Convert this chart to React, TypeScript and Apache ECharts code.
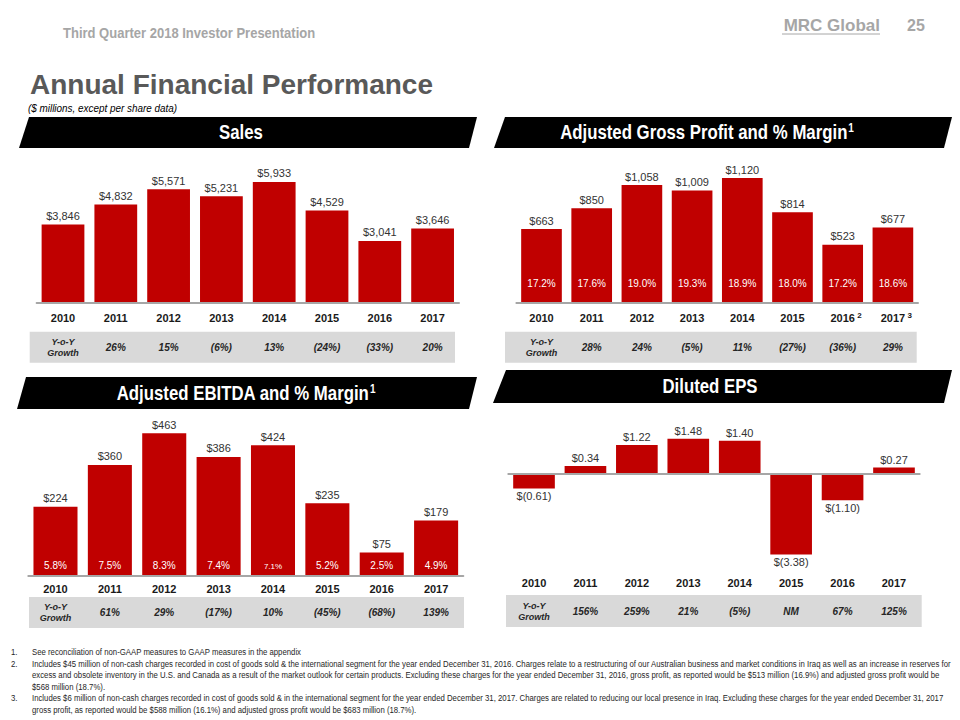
import React, { useEffect, useRef } from "react";
import * as echarts from "echarts";

// ---------- data ----------
const years = ["2010", "2011", "2012", "2013", "2014", "2015", "2016", "2017"];

const salesValues = [3846, 4832, 5571, 5231, 5933, 4529, 3041, 3646];
const salesGrowth = ["", "26%", "15%", "(6%)", "13%", "(24%)", "(33%)", "20%"];

const grossProfitValues = [663, 850, 1058, 1009, 1120, 814, 523, 677];
const grossMargins = ["17.2%", "17.6%", "19.0%", "19.3%", "18.9%", "18.0%", "17.2%", "18.6%"];
const grossGrowth = ["", "28%", "24%", "(5%)", "11%", "(27%)", "(36%)", "29%"];
const grossYearNotes = ["", "", "", "", "", "", "2", "3"];

const ebitdaValues = [224, 360, 463, 386, 424, 235, 75, 179];
const ebitdaMargins = ["5.8%", "7.5%", "8.3%", "7.4%", "7.1%", "5.2%", "2.5%", "4.9%"];
const ebitdaGrowth = ["", "61%", "29%", "(17%)", "10%", "(45%)", "(68%)", "139%"];

const epsValues = [-0.61, 0.34, 1.22, 1.48, 1.4, -3.38, -1.1, 0.27];
const epsGrowth = ["", "156%", "259%", "21%", "(5%)", "NM", "67%", "125%"];

const growthRowTitle = ["Y-o-Y", "Growth"];

const panelTitles = ["Sales", "Adjusted Gross Profit and % Margin", "Adjusted EBITDA and % Margin", "Diluted EPS"];
const panelTitleNotes = ["", "1", "1", ""];

const headerText = "Third Quarter 2018 Investor Presentation";
const logoText = "MRC Global";
const pageNumber = "25";
const titleText = "Annual Financial Performance";
const subtitleText = "($ millions, except per share data)";

const footnoteNumbers = ["1.", "2.", "", "", "3.", ""];
const footnoteLines = [
  "See reconciliation of non-GAAP measures to GAAP measures in the appendix",
  "Includes $45 million of non-cash charges recorded in cost of goods sold & the international segment for the year ended December 31, 2016. Charges relate to a restructuring of our Australian business and market conditions in Iraq as well as an increase in reserves for",
  "excess and obsolete inventory in the U.S. and Canada as a result of the market outlook for certain products. Excluding these charges for the year ended December 31, 2016, gross profit, as reported would be $513 million (16.9%) and adjusted gross profit would be",
  "$568 million (18.7%).",
  "Includes $6 million of non-cash charges recorded in cost of goods sold & in the international segment for the year ended December 31, 2017. Charges are related to reducing our local presence in Iraq. Excluding these charges for the year ended December 31, 2017",
  "gross profit, as reported would be $588 million (16.1%) and adjusted gross profit would be $683 million (18.7%).",
];

// ---------- styles ----------
const RED = "#C00000";
const TEXT = "#262626";
const AXIS_GRAY = "#a6a6a6";
const BAND = "#d9d9d9";
const HEADER_GRAY = "#a6a6a6";
const ARIAL = "'Liberation Sans', Arial, sans-serif";
const NARROW_SCALE = 0.82;

const money = (v: number) => "$" + v.toLocaleString("en-US");
const epsFmt = (v: number) => (v < 0 ? `$(${Math.abs(v).toFixed(2)})` : `$${v.toFixed(2)}`);

type Panel = {
  grid: { left: number; top: number; width: number; height: number };
  min: number;
  max: number;
  yearMargin: number;
  growthMargin: number;
  growth: string[];
  onZero: boolean;
};

const panels: Panel[] = [
  { grid: { left: 36.6, top: 150, width: 422.4, height: 153 }, min: 0, max: 7500, yearMargin: 15, growthMargin: 44.7, growth: salesGrowth, onZero: false },
  { grid: { left: 516.4, top: 150, width: 401.6, height: 153 }, min: 0, max: 1372, yearMargin: 15, growthMargin: 44.7, growth: grossGrowth, onZero: false },
  { grid: { left: 28.3, top: 422, width: 435, height: 153.5 }, min: 0, max: 500, yearMargin: 13, growthMargin: 37, growth: ebitdaGrowth, onZero: false },
  { grid: { left: 508.3, top: 426.4, width: 411.4, height: 130.9 }, min: -3.5, max: 2, yearMargin: 25.4, growthMargin: 54.4, growth: epsGrowth, onZero: true },
];

function yearLabel(margin: number, notes?: string[]) {
  return {
    show: true,
    interval: 0,
    margin,
    verticalAlign: "middle",
    fontFamily: ARIAL,
    fontWeight: "bold",
    fontSize: 11,
    color: "#1a1a1a",
    formatter: (v: string, i: number) =>
      notes ? `{p|}{y|${v}}{s|${notes[i] ? " " + notes[i] : ""}}` : v,
    rich: notes
      ? {
          p: { width: 7 },
          y: { fontFamily: ARIAL, fontWeight: "bold", fontSize: 11, color: "#1a1a1a" },
          s: { width: 7, fontFamily: ARIAL, fontSize: 8, color: "#1a1a1a", verticalAlign: "top", align: "left", padding: [0, 0, 5, 0] },
        }
      : undefined,
  };
}

function growthLabel(margin: number, growth: string[]) {
  return {
    show: true,
    interval: 0,
    margin,
    verticalAlign: "middle",
    formatter: (_v: string, i: number) =>
      i === 0 ? `{t|${growthRowTitle[0]}}\n{t|${growthRowTitle[1]}}` : `{g|${growth[i]}}`,
    rich: {
      t: { fontFamily: ARIAL, fontStyle: "italic", fontWeight: "bold", fontSize: 9, lineHeight: 11, color: TEXT, align: "center" },
      g: { fontFamily: ARIAL, fontStyle: "italic", fontWeight: "bold", fontSize: 10, color: TEXT },
    },
  };
}

function buildOption() {
  const grid = panels.map((p) => ({ ...p.grid }));
  const yAxis = panels.map((p, k) => ({ type: "value", gridIndex: k, min: p.min, max: p.max, show: false }));
  const xAxis: any[] = [];
  const axisIndex: number[] = [];
  panels.forEach((p, k) => {
    axisIndex.push(xAxis.length);
    xAxis.push({
      type: "category",
      gridIndex: k,
      data: years,
      position: "bottom",
      z: 3,
      axisLine: { show: true, onZero: p.onZero, lineStyle: { color: AXIS_GRAY, width: 2 } },
      axisTick: { show: false },
      axisLabel: p.onZero ? { show: false } : yearLabel(p.yearMargin, k === 1 ? grossYearNotes : undefined),
    });
    if (p.onZero) {
      xAxis.push({
        type: "category",
        gridIndex: k,
        data: years,
        position: "bottom",
        z: 3,
        axisLine: { show: false, onZero: false },
        axisTick: { show: false },
        axisLabel: yearLabel(p.yearMargin),
      });
    }
    xAxis.push({
      type: "category",
      gridIndex: k,
      data: years,
      position: "bottom",
      z: 3,
      axisLine: { show: false, onZero: false },
      axisTick: { show: false },
      axisLabel: growthLabel(p.growthMargin, p.growth),
    });
  });

  const valueLabel = {
    show: true,
    position: "top",
    distance: 3,
    fontFamily: ARIAL,
    fontSize: 11,
    color: "#333",
  };

  const marginSeries = (k: number, values: number[], margins: string[], distance: number) => ({
    type: "bar",
    xAxisIndex: axisIndex[k],
    yAxisIndex: k,
    barCategoryGap: "19%",
    barGap: "-100%",
    silent: true,
    z: 3,
    itemStyle: { color: "rgba(0,0,0,0)" },
    data: values.map((v, i) => ({
      value: v,
      label: { fontSize: margins[i] === "7.1%" && k === 2 ? 8 : 10 },
    })),
    label: {
      show: true,
      position: "insideBottom",
      distance,
      fontFamily: ARIAL,
      fontSize: 10,
      color: "#fff",
      formatter: (p: any) => margins[p.dataIndex],
    },
  });

  const series: any[] = [
    {
      type: "bar",
      xAxisIndex: axisIndex[0],
      yAxisIndex: 0,
      barCategoryGap: "19%",
      itemStyle: { color: RED },
      data: salesValues,
      label: { ...valueLabel, formatter: (p: any) => money(p.value) },
    },
    {
      type: "bar",
      xAxisIndex: axisIndex[1],
      yAxisIndex: 1,
      barCategoryGap: "19%",
      itemStyle: { color: RED },
      data: grossProfitValues,
      label: { ...valueLabel, formatter: (p: any) => money(p.value) },
    },
    marginSeries(1, grossProfitValues, grossMargins, 15),
    {
      type: "bar",
      xAxisIndex: axisIndex[2],
      yAxisIndex: 2,
      barCategoryGap: "19%",
      itemStyle: { color: RED },
      data: ebitdaValues,
      label: { ...valueLabel, formatter: (p: any) => money(p.value) },
    },
    marginSeries(2, ebitdaValues, ebitdaMargins, 5),
    {
      type: "bar",
      xAxisIndex: axisIndex[3],
      yAxisIndex: 3,
      barCategoryGap: "19%",
      itemStyle: { color: RED },
      data: epsValues.map((v) => ({ value: v, label: { position: v < 0 ? "bottom" : "top" } })),
      label: { ...valueLabel, distance: 2, formatter: (p: any) => epsFmt(p.value) },
    },
  ];

  // ---------- graphic decorations ----------
  const banners = [
    { pts: [[29, 117], [477, 117], [469, 148], [19, 148]], cx: 241, cy: 132 },
    { pts: [[505, 117], [952, 117], [944, 148], [494, 148]], cx: 707, cy: 132 },
    { pts: [[26, 377], [477, 377], [469, 409], [17, 409]], cx: 246, cy: 393 },
    { pts: [[506, 370], [952, 370], [944, 403], [493, 403]], cx: 710, cy: 386 },
  ];
  const bands = [
    { x: 29.7, y: 331.7, w: 425.3, h: 31 },
    { x: 505, y: 331.7, w: 411.7, h: 31 },
    { x: 29, y: 597, w: 435, h: 31 },
    { x: 506, y: 595, w: 415.7, h: 32 },
  ];

  const graphic: any[] = [];
  bands.forEach((b) =>
    graphic.push({ type: "rect", z: 0, silent: true, shape: { x: b.x, y: b.y, width: b.w, height: b.h }, style: { fill: BAND } })
  );
  banners.forEach((b, i) => {
    graphic.push({ type: "polygon", z: 10, silent: true, shape: { points: b.pts }, style: { fill: "#000" } });
    graphic.push({
      type: "text",
      z: 11,
      silent: true,
      x: b.cx,
      y: b.cy,
      scaleX: 0.84,
      style: {
        text: panelTitleNotes[i] ? `{m|${panelTitles[i]}}{s|${panelTitleNotes[i]}}` : `{m|${panelTitles[i]}}`,
        align: "center",
        verticalAlign: "middle",
        rich: {
          m: { fontFamily: ARIAL, fontWeight: "bold", fontSize: 20, fill: "#fff" },
          s: { fontFamily: ARIAL, fontWeight: "bold", fontSize: 12, fill: "#fff", verticalAlign: "top", padding: [0, 0, 7, 1] },
        },
      },
    });
  });

  graphic.push(
    {
      type: "text", silent: true, x: 63, y: 33, scaleX: 0.93,
      style: { text: headerText, fontFamily: ARIAL, fontWeight: "bold", fontSize: 14, fill: HEADER_GRAY, verticalAlign: "middle" },
    },
    {
      type: "text", silent: true, x: 880, y: 25,
      style: { text: logoText, fontFamily: ARIAL, fontWeight: "bold", fontSize: 17, fill: HEADER_GRAY, align: "right", verticalAlign: "middle" },
    },
    { type: "line", silent: true, shape: { x1: 782, y1: 34, x2: 880, y2: 34 }, style: { stroke: HEADER_GRAY, lineWidth: 1 } },
    {
      type: "text", silent: true, x: 907, y: 25,
      style: { text: pageNumber, fontFamily: ARIAL, fontWeight: "bold", fontSize: 16, fill: HEADER_GRAY, verticalAlign: "middle" },
    },
    {
      type: "text", silent: true, x: 30, y: 84,
      style: { text: titleText, fontFamily: ARIAL, fontWeight: "bold", fontSize: 28, fill: "#595959", verticalAlign: "middle" },
    },
    {
      type: "text", silent: true, x: 28, y: 108, scaleX: 0.9,
      style: { text: subtitleText, fontFamily: ARIAL, fontStyle: "italic", fontSize: 11, fill: "#000", verticalAlign: "middle" },
    }
  );

  const footY = [652, 663.5, 675, 686.5, 698, 709.5];
  footnoteLines.forEach((line, i) => {
    if (footnoteNumbers[i]) {
      graphic.push({
        type: "text", silent: true, x: 11, y: footY[i], scaleX: NARROW_SCALE,
        style: { text: footnoteNumbers[i], fontFamily: ARIAL, fontSize: 9.5, fill: TEXT, verticalAlign: "middle" },
      });
    }
    graphic.push({
      type: "text", silent: true, x: 32, y: footY[i], scaleX: NARROW_SCALE,
      style: { text: line, fontFamily: ARIAL, fontSize: 9.5, fill: TEXT, verticalAlign: "middle" },
    });
  });

  return {
    animation: false,
    backgroundColor: "#fff",
    grid,
    xAxis,
    yAxis,
    series,
    graphic,
  };
}

export default function App() {
  const ref = useRef<HTMLDivElement>(null);
  useEffect(() => {
    if (!ref.current) return;
    const chart = echarts.init(ref.current, null, { renderer: "svg", width: 960, height: 720 });
    chart.setOption(buildOption() as any);
    return () => chart.dispose();
  }, []);
  return (
    <div
      ref={ref}
      style={{ position: "fixed", left: 0, top: 0, width: 960, height: 720, background: "#fff" }}
    />
  );
}
